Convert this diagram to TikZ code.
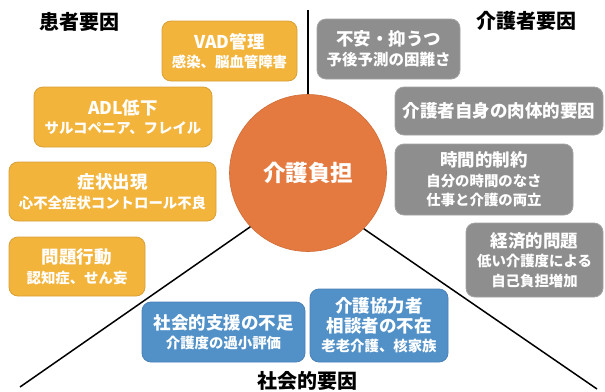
\documentclass[tikz,border=0pt]{standalone}
\usepackage{fontspec}
\setmainfont{Noto Sans CJK JP}
\begin{document}
\definecolor{ofill}{HTML}{F3B43B}
\definecolor{odraw}{HTML}{D9A035}
\definecolor{gfill}{HTML}{8E8E8E}
\definecolor{gdraw}{HTML}{A3A3A3}
\definecolor{bfill}{HTML}{5291C8}
\definecolor{bdraw}{HTML}{4A82B8}
\definecolor{cfill}{HTML}{E47A40}
\definecolor{cdraw}{HTML}{D06C36}
\begin{tikzpicture}[x=1pt,y=-1pt,
  box/.style={rounded corners=9pt, line width=0.8pt, text=white, align=center, inner sep=0pt,
    font=\fontsize{14.4}{19.5}\selectfont\bfseries},
  obox/.style={box, fill=ofill, draw=odraw},
  gbox/.style={box, fill=gfill, draw=gdraw},
  bbox/.style={box, fill=bfill, draw=bdraw},
  grp/.style={font=\fontsize{20}{24}\selectfont\bfseries, text=black, inner sep=0pt},
  conn/.style={line width=1.5pt, black},
]
\newcommand{\ttl}[1]{{\fontsize{17.5}{20}\selectfont #1}}
\useasboundingbox (0,0) rectangle (605,391);
\fill[white] (0,0) rectangle (605,391);

\node[circle, minimum size=157pt, fill=cfill, draw=cdraw, line width=0.6pt, inner sep=0pt,
  text=white, font=\fontsize{22.5}{26}\selectfont\bfseries] (c) at (308,173) {介護負担};

\coordinate (top) at (308,10);
\coordinate (ll) at (20,387);
\coordinate (lr) at (597,389);
\draw[conn] (c.north) -- (top);
\draw[conn] (c.223.5) -- (ll);
\draw[conn] (c.315) -- (lr);

% patient factors
\node[obox, minimum width=135pt, minimum height=60pt] (vad) at (229.5,51) {\ttl{VAD管理}\\感染、脳血管障害};
\node[obox, minimum width=178pt, minimum height=60pt] (adl) at (123,117) {\ttl{ADL低下}\\サルコペニア、フレイル};
\node[obox, minimum width=207pt, minimum height=59pt] (sym) at (112.5,191.5) {\ttl{症状出現}\\心不全症状コントロール不良};
\node[obox, minimum width=136pt, minimum height=59pt] (beh) at (77,266.5) {\ttl{問題行動}\\認知症、せん妄};

% caregiver factors
\node[gbox, minimum width=143pt, minimum height=60pt] (anx) at (388.5,49) {\ttl{不安・抑うつ}\\{\fontsize{15.5}{19.5}\selectfont 予後予測の困難さ}};
\node[gbox, minimum width=208pt, minimum height=48pt] (phy) at (499,111) {\ttl{介護者自身の肉体的要因}};
\node[gbox, minimum width=178pt, minimum height=71pt] (time) at (484,179.5) {\ttl{時間的制約}\\自分の時間のなさ\\仕事と介護の両立};
\node[gbox, minimum width=137pt, minimum height=74pt] (eco) at (534.5,260) {\ttl{経済的問題}\\低い介護度による\\自己負担増加};

% social factors
\node[bbox, minimum width=163pt, minimum height=60pt] (sup) at (223.5,332) {\ttl{社会的支援の不足}\\介護度の過小評価};
\node[bbox, minimum width=138pt, minimum height=73pt] (coop) at (379,325.5) {\ttl{介護協力者}\\\ttl{相談者の不在}\\老老介護、核家族};

% group labels
\node[grp] (g1) at (79,22) {患者要因};
\node[grp] (g2) at (526,21) {介護者要因};
\node[grp] (g3) at (307,381) {社会的要因};
\end{tikzpicture}
\end{document}
